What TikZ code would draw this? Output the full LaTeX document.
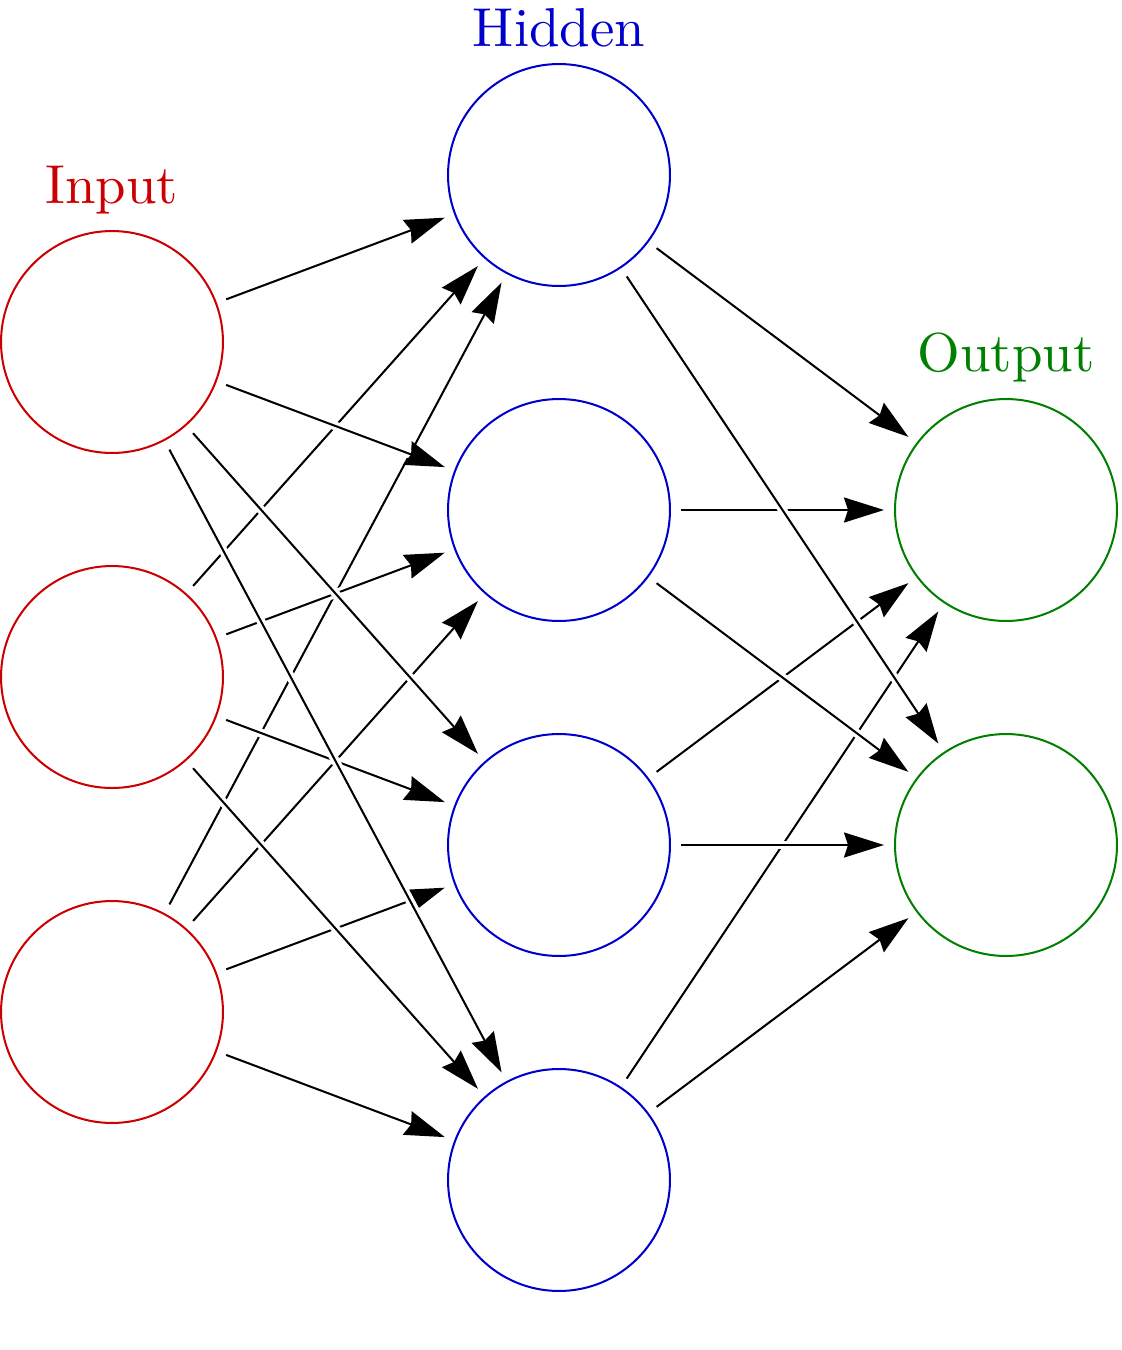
\documentclass[tikz,border=0pt]{standalone}
\usetikzlibrary{positioning,arrows.meta}
\definecolor{inred}{RGB}{204,0,0}
\definecolor{hidblue}{RGB}{0,0,204}
\definecolor{outgreen}{RGB}{0,128,0}
\tikzset{%
  >={Stealth[length=0.8cm,width=0.5cm,inset=0.08cm]},
  neuron/.style={draw,circle,line width=1.15pt,minimum size=4.44cm,inner sep=0pt,outer sep=0.22cm},
  layer/.style={font=\normalsize,scale=3.12,inner sep=0pt,outer sep=0pt},
  synapse/.style={->,line width=1.15pt,
    preaction={draw=white,line width=5pt,-,shorten >=0.6cm}}
}
\begin{document}
\begin{tikzpicture}[x=0.02cm,y=-0.02cm]
	\useasboundingbox (0,0) rectangle (1122,1350);
	% layers
	\foreach \i/\y in {1/342,2/677,3/1012}
		\node[neuron,draw=inred] (in-\i) at (112,\y) {};
	\foreach \i/\y in {1/175,2/510,3/845,4/1180}
		\node[neuron,draw=hidblue] (hid-\i) at (559,\y) {};
	\foreach \i/\y in {1/510,2/845}
		\node[neuron,draw=outgreen] (out-\i) at (1006,\y) {};
	% labels
	\node[layer,text=inred,above=0.12cm of in-1] (in-label) {Input};
	\node[layer,text=hidblue,above=0.12cm of hid-1] (hid-label) {Hidden};
	\node[layer,text=outgreen,above=0.12cm of out-1] (out-label) {Output};
	% connections (later ones cross over earlier ones)
	\foreach \j in {1,...,4}
		\foreach \i in {1,...,3}
			\draw[synapse] (in-\i) -- (hid-\j);
	\foreach \k in {1,2}
		\foreach \j in {1,...,4}
			\draw[synapse] (hid-\j) -- (out-\k);
\end{tikzpicture}
\end{document}
